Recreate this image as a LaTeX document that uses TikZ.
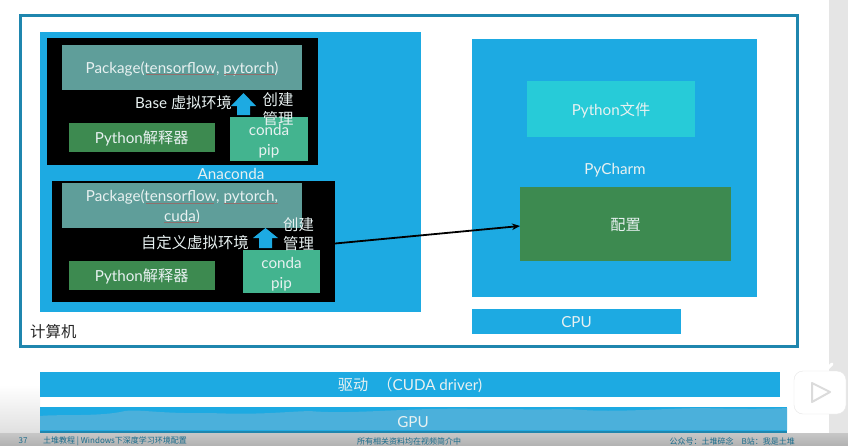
\documentclass[tikz,border=0pt]{standalone}
\usepackage{fontspec}
\setmainfont{Lato}
\newfontfamily\cjk{Noto Sans CJK SC}
\usetikzlibrary{arrows.meta}
\definecolor{skyb}{HTML}{1DAAE2}
\definecolor{frameb}{HTML}{1F86AE}
\definecolor{pkg}{HTML}{5F9E9A}
\definecolor{pygreen}{HTML}{3D8A50}
\definecolor{condag}{HTML}{43B48F}
\definecolor{turq}{HTML}{27CBD8}
\definecolor{wave}{HTML}{4BB0DB}
\definecolor{txtw}{HTML}{E8F1F1}
\tikzset{
  x=1pt,y=-1pt,
  box/.style={anchor=north west,inner sep=0pt,outer sep=0pt,align=center,text=txtw},
  lab/.style={inner sep=0pt,align=center,text=txtw,font=\fontsize{15.2}{19.5}\selectfont},
  cjklab/.style={lab,font=\cjk\fontsize{15.4}{19}\selectfont},
  spell/.style={draw=red!30!pkg,line width=0.5pt}
}
\newcommand{\bx}[7]{\node[box,fill=#6,minimum width=#3pt-#1pt,minimum height=#4pt-#2pt] (#5) at (#1,#2) {};\node[lab,yshift=-1pt] at (#5.center) {#7};}
\begin{document}
\begin{tikzpicture}
\useasboundingbox (0,0) rectangle (848,445);
\fill[white] (0,0) rectangle (848,445);
\fill[black!10] (829,0) rectangle (848,445);
\shade[top color=white,bottom color=black!12] (0,385) rectangle (40,432);
% outer frame
\node[box,draw=frameb,line width=3pt,minimum width=777pt,minimum height=331pt] (computer) at (20,15) {};
\node[cjklab,anchor=west,text=black!85] (computerlab) at (30,332) {计算机};
% Anaconda
\bx{40}{32}{421}{312}{anaconda}{skyb}{}
\bx{47}{38}{318}{165}{baseenv}{black}{}
\bx{52}{181}{335}{302}{customenv}{black}{}
\node[lab] (anacondalab) at (231,174) {Anaconda};
% Base env
\bx{62}{45}{302}{90}{pkgone}{pkg}{Package(tensorflow, pytorch)}
\draw[spell] (146,74.5) -- (214,74.5) (224,74.5) -- (275,74.5);
\bx{68.5}{123}{215}{152}{pyone}{pygreen}{Python{\cjk 解释器}}
\bx{230}{117}{308}{161}{condaone}{condag}{}
\node[lab] (condaonelab) at (269,141) {conda\\pip};
\fill[skyb] (243.5,93) -- (256,106) -- (250,106) -- (250,115) -- (237,115) -- (237,106) -- (231,106) -- cycle;
\node[lab,anchor=east] (baselab) at (232,103) {Base {\cjk 虚拟环境}};
\node[cjklab] (createone) at (278,109) {创建\\管理};
% custom env
\bx{62}{183}{302}{228}{pkgtwo}{pkg}{Package(tensorflow, pytorch,\\cuda)}
\draw[spell] (146,203) -- (214,203) (224,203) -- (278,203) (164,222) -- (199,222);
\bx{68.5}{261}{215}{290}{pytwo}{pygreen}{Python{\cjk 解释器}}
\bx{243}{250}{320}{293}{condatwo}{condag}{}
\node[lab] (condatwolab) at (281.5,274) {conda\\pip};
\fill[skyb] (265.5,228) -- (278,238) -- (272,238) -- (272,248) -- (259,248) -- (259,238) -- (253,238) -- cycle;
\node[cjklab,anchor=east] (customlab) at (249,243) {自定义虚拟环境};
\node[cjklab] (createtwo) at (298.5,234) {创建\\管理};
% PyCharm
\bx{472}{39}{757}{297}{pycharm}{skyb}{}
\bx{527}{81}{695}{137}{pyfile}{turq}{Python{\cjk 文件}}
\node[lab] (pycharmlab) at (615,170) {PyCharm};
\bx{520}{187}{731}{261}{config}{pygreen}{{\cjk 配置}}
\bx{472}{309}{681}{334}{cpu}{skyb}{CPU}
% connector
\draw[-{Stealth[length=8pt,width=6.5pt]},line width=1.8pt,black] (customenv.east |- 0,243.5) -- (config.west |- 0,226);
% driver
\bx{40}{372}{780}{397}{driver}{skyb}{{\cjk 驱动\hspace{0.6em}（}CUDA driver)}
% GPU
\node[box,fill=skyb,minimum width=747pt,minimum height=26pt] (gpu) at (40,407) {};
\fill[wave] (40,416) .. controls (60,414) and (100,417) .. (125,411) .. controls (140,409) and (160,414) .. (210,413) .. controls (260,415) and (280,412) .. (310,411) .. controls (340,414) and (390,410) .. (430,409) .. controls (470,408) and (520,410) .. (570,409) .. controls (610,413) and (650,409) .. (700,408) .. controls (740,409) and (770,409) .. (787,408) -- (787,430) -- (40,430) -- cycle;
\fill[frameb] (40,431) rectangle (787,433);
\node[lab] (gpulab) at (413,422) {GPU};
% footer
\shade[top color=black!22,bottom color=black!30] (0,433) rectangle (848,445);
\begin{scope}[every node/.style={inner sep=0pt,text=frameb!80!black,font=\cjk\fontsize{8}{10}\selectfont}]
\node (pagenum) at (23,441) {37};
\node[anchor=west] (ftleft) at (43,441) {土堆教程 | Windows下深度学习环境配置};
\node (ftmid) at (409,441.5) {所有相关资料均在视频简介中};
\node[anchor=east] (ftright) at (795,441) {公众号：土堆碎念\quad B站：我是土堆};
\end{scope}
% logo
\draw[white,line width=3pt,line cap=round] (811,364) -- (818,371) (832,364) -- (825,371);
\fill[white,draw=black!10,rounded corners=9pt] (794,371) rectangle (846,414);
\draw[black!14,line width=2pt,line join=round] (812,383) -- (830,392) -- (812,402) -- cycle;
\end{tikzpicture}
\end{document}
